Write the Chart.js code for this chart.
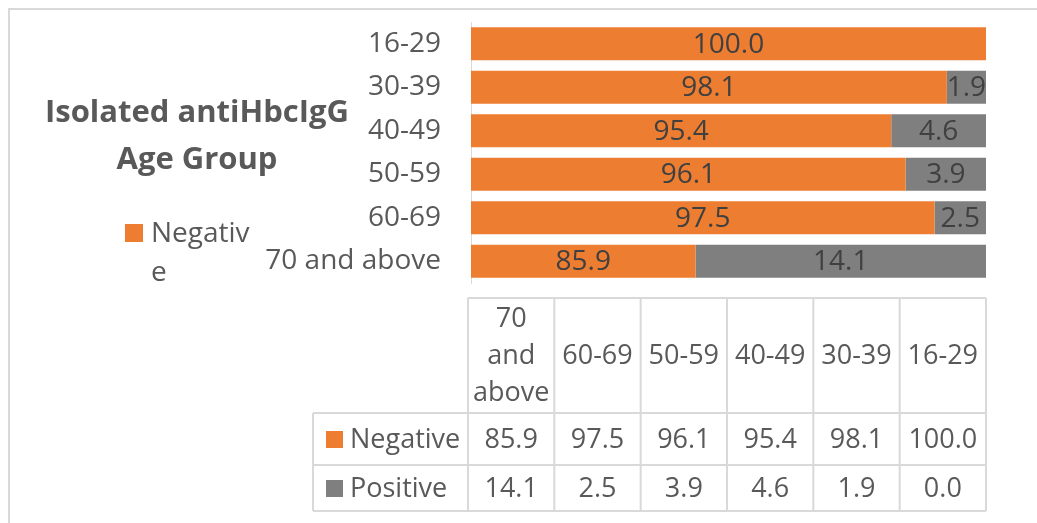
<!DOCTYPE html>
<html>
<head>
<meta charset="utf-8">
<script src="https://cdn.jsdelivr.net/npm/chart.js@4"></script>
<style>
  html, body { margin: 0; padding: 0; background: #fff; }
  #chart { display: block; }
</style>
</head>
<body>
<canvas id="chart" width="1037" height="523"></canvas>
<script>
// data
const ageGroups = ['16-29', '30-39', '40-49', '50-59', '60-69', '70 and above'];
const negative = [100.0, 98.1, 95.4, 96.1, 97.5, 85.9];
const positive = [0.0, 1.9, 4.6, 3.9, 2.5, 14.1];
const seriesNames = ['Negative', 'Positive'];
const tableHeaders = [['70', 'and', 'above'], ['60-69'], ['50-59'], ['40-49'], ['30-39'], ['16-29']];
const chartTitle = ['Isolated antiHbcIgG', 'Age Group'];
const legendText = ['Negativ', 'e'];
const xMin = 75;
const xMax = 100;

const ORANGE = '#ED7D31';
const GREY = '#7F7F7F';
const TEXT = '#595959';
const LINE = '#D9D9D9';
const FONT = '"Open Sans", sans-serif';

const barLabels = {
    id: 'barLabels',
    afterDatasetsDraw(chart) {
        const ctx = chart.ctx;
        const area = chart.chartArea;
        ctx.save();
        ctx.font = '28px ' + FONT;
        ctx.fillStyle = '#404040';
        ctx.textAlign = 'center';
        ctx.textBaseline = 'middle';
        chart.data.datasets.forEach((ds, di) => {
            const meta = chart.getDatasetMeta(di);
            meta.data.forEach((bar, i) => {
                const v = ds.data[i];
                if (!v) return;
                const x0 = Math.max(Math.min(bar.x, bar.base), area.left);
                const x1 = Math.min(Math.max(bar.x, bar.base), area.right);
                ctx.fillText(v.toFixed(1), (x0 + x1) / 2, bar.y + 1);
            });
        });
        ctx.restore();
    }
};

const extras = {
    id: 'extras',
    beforeDraw(chart) {
        const ctx = chart.ctx;
        ctx.save();
        ctx.fillStyle = '#fff';
        ctx.fillRect(0, 0, chart.width, chart.height);
        // outer frame
        ctx.strokeStyle = LINE;
        ctx.lineWidth = 2;
        ctx.beginPath();
        ctx.moveTo(9, chart.height);
        ctx.lineTo(9, 9);
        ctx.lineTo(chart.width, 9);
        ctx.stroke();
        ctx.restore();
    },
    afterDraw(chart) {
        const ctx = chart.ctx;
        const area = chart.chartArea;
        ctx.save();

        // title
        ctx.fillStyle = TEXT;
        ctx.textAlign = 'center';
        ctx.textBaseline = 'middle';
        ctx.font = 'bold 31px ' + FONT;
        chartTitle.forEach((t, i) => ctx.fillText(t, 197, 113 + i * 47));

        // legend (only first entry visible)
        ctx.fillStyle = ORANGE;
        ctx.fillRect(125, 224, 18, 18);
        ctx.fillStyle = TEXT;
        ctx.textAlign = 'left';
        ctx.font = '28px ' + FONT;
        legendText.forEach((t, i) => ctx.fillText(t, 151, 234 + i * 39));

        // data table
        const left = area.left - 3;
        const right = area.right;
        const colW = (right - left) / tableHeaders.length;
        const rowTop = 298, headBottom = 413, row1Bottom = 465, row2Bottom = 511;
        const labelLeft = 313;

        ctx.strokeStyle = LINE;
        ctx.lineWidth = 2;
        ctx.beginPath();
        ctx.moveTo(left, rowTop); ctx.lineTo(right, rowTop);
        [headBottom, row1Bottom, row2Bottom].forEach(y => {
            ctx.moveTo(labelLeft, y); ctx.lineTo(right, y);
        });
        ctx.moveTo(labelLeft, headBottom); ctx.lineTo(labelLeft, row2Bottom);
        for (let k = 0; k <= tableHeaders.length; k++) {
            const x = left + k * colW;
            ctx.moveTo(x, rowTop); ctx.lineTo(x, row2Bottom);
        }
        ctx.stroke();

        ctx.fillStyle = TEXT;
        ctx.font = '27px ' + FONT;
        ctx.textAlign = 'center';
        const headMid = (rowTop + headBottom) / 2 + 1;
        tableHeaders.forEach((lines, k) => {
            const cx = left + (k + 0.5) * colW;
            const y0 = headMid - (lines.length - 1) * 37 / 2;
            lines.forEach((t, j) => ctx.fillText(t, cx, y0 + j * 37));
        });

        const rows = [negative, positive];
        const rowMids = [(headBottom + row1Bottom) / 2 + 1, (row1Bottom + row2Bottom) / 2 + 1];
        rows.forEach((vals, r) => {
            const reversed = vals.slice().reverse();
            reversed.forEach((v, k) => {
                ctx.fillText(v.toFixed(1), left + (k + 0.5) * colW, rowMids[r]);
            });
        });

        // row keys
        const keyColors = [ORANGE, GREY];
        ctx.textAlign = 'left';
        seriesNames.forEach((name, r) => {
            ctx.fillStyle = keyColors[r];
            ctx.fillRect(326, rowMids[r] - 9, 17, 17);
            ctx.fillStyle = TEXT;
            ctx.fillText(name, 350, rowMids[r]);
        });

        ctx.restore();
    }
};

new Chart(document.getElementById('chart'), {
    type: 'bar',
    data: {
        labels: ageGroups,
        datasets: [
            {
                label: seriesNames[0],
                data: negative,
                backgroundColor: ORANGE,
                barPercentage: 0.76,
                categoryPercentage: 1
            },
            {
                label: seriesNames[1],
                data: positive,
                backgroundColor: GREY,
                barPercentage: 0.76,
                categoryPercentage: 1
            }
        ]
    },
    options: {
        indexAxis: 'y',
        responsive: false,
        animation: false,
        layout: {
            padding: { left: 0, top: 22, right: 51, bottom: 240 }
        },
        scales: {
            x: {
                display: false,
                stacked: true,
                min: xMin,
                max: xMax
            },
            y: {
                stacked: true,
                grid: { display: false },
                border: { display: true, color: LINE, width: 1 },
                ticks: {
                    color: TEXT,
                    font: { family: FONT, size: 28 },
                    padding: 22
                },
                afterFit(scale) {
                    scale.width = 471;
                    scale.paddingTop = 0;
                    scale.paddingBottom = 0;
                }
            }
        },
        plugins: {
            legend: { display: false },
            tooltip: { enabled: false }
        }
    },
    plugins: [extras, barLabels]
});
</script>
</body>
</html>
